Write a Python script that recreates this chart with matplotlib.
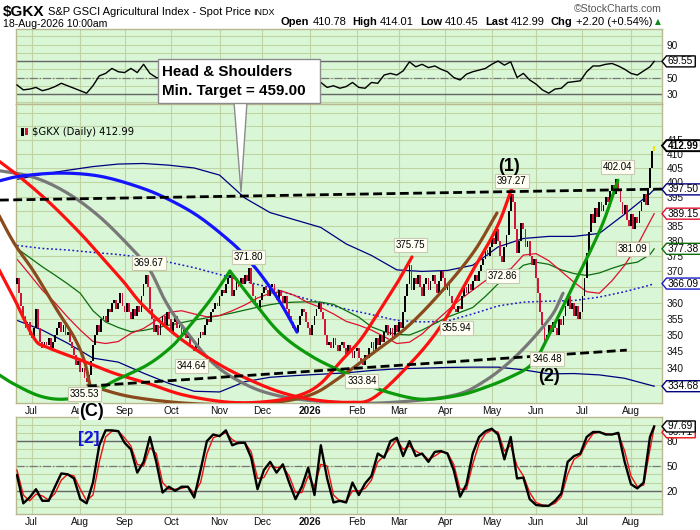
import numpy as np
import pandas as pd
import matplotlib
matplotlib.use("Agg")
import matplotlib.pyplot as plt
from matplotlib.patches import Polygon, Rectangle
from matplotlib.transforms import Bbox, IdentityTransform
from matplotlib.ticker import NullLocator

plt.rcParams['font.family'] = ['Liberation Sans', 'DejaVu Sans']

# ---------------- data ----------------
START_DATE = "2025-06-20"
FIRST_OPEN = 366.0
closes = [
    368, 363, 359, 356, 352, 354, 350, 349, 352, 358,
    352, 348, 346, 348, 347, 349, 346, 348, 350, 352,
    354, 351, 353, 350, 351, 348, 346, 344, 341, 342,
    339, 340, 337, 336, 338, 342, 347, 350, 353, 351,
    355, 356, 354, 358, 357, 360, 361, 358, 360, 363,
    359, 357, 360, 357, 355, 358, 356, 359, 357, 362,
    366, 369, 365, 358, 355, 351, 353, 350, 354, 356,
    353, 357, 355, 351, 354, 356, 352, 353, 350, 352,
    349, 350, 347, 346, 345, 347, 349, 351, 350, 353,
    355, 354, 357, 358, 360, 359, 362, 364, 363, 366,
    368, 369, 362, 364, 367, 365, 368, 366, 369, 367,
    371, 366, 362, 360, 358, 361, 363, 365, 364, 362,
    365, 366, 363, 361, 364, 362, 360, 362, 358, 356,
    354, 352, 351, 353, 356, 358, 357, 354, 352, 350,
    353, 356, 358, 360, 357, 355, 350, 347, 348, 346,
    349, 347, 345, 347, 348, 346, 344, 347, 345, 343,
    345, 346, 343, 342, 341, 344, 343, 346, 348, 345,
    349, 347, 350, 348, 351, 353, 350, 352, 349, 353,
    351, 354, 352, 357, 362, 366, 372, 364, 368, 366,
    369, 365, 362, 366, 368, 364, 367, 369, 366, 363,
    367, 370, 368, 364, 366, 362, 360, 358, 357, 359,
    358, 362, 365, 363, 366, 364, 367, 369, 367, 370,
    372, 374, 377, 375, 378, 381, 379, 384, 380, 375,
    373, 378, 382, 390, 396, 393, 384, 376, 380, 386,
    384, 378, 380, 375, 372, 374, 368, 363, 357, 353,
    348, 350, 353, 351, 354, 352, 350, 355, 353, 356,
    359, 362, 358, 360, 356, 359, 355, 357, 362, 368,
    376, 383, 389, 386, 391, 388, 393, 390, 392, 395,
    393, 397, 399, 396, 401, 397, 393, 389, 392, 387,
    385, 389, 384, 388, 386, 390, 393, 396, 392, 398,
    405, 411, 412.99,
]

IND_STEP = 3
rsi14 = [41, 35, 36, 38, 34, 36, 39, 43, 40, 37,
         34, 31, 40, 52, 55, 61, 57, 56, 61, 56,
         66, 55, 50, 48, 50, 47, 49, 45, 41, 50,
         55, 60, 62, 63, 61, 64, 66, 55, 52, 55,
         54, 57, 55, 45, 47, 52, 49, 52, 44, 38,
         40, 37, 39, 44, 38, 37, 44, 43, 53, 55,
         53, 58, 69, 63, 66, 62, 64, 60, 57, 50,
         47, 54, 57, 59, 61, 66, 70, 65, 69, 50,
         55, 47, 42, 35, 31, 36, 37, 44, 45, 46,
         57, 64, 64, 66, 67, 64, 60, 55, 53, 58,
         63, 69.55]
stoch_k = [39, 5, 12, 22, 8, 8, 25, 41, 40, 35,
           10, 5, 30, 75, 93, 93, 92, 78, 70, 42,
           55, 85, 55, 18, 25, 20, 25, 25, 12, 45,
           80, 88, 86, 93, 75, 78, 78, 60, 22, 45,
           55, 42, 52, 30, 10, 25, 48, 15, 75, 35,
           6, 8, 6, 30, 15, 29, 38, 65, 60, 80,
           84, 62, 80, 62, 65, 55, 67, 68, 65, 45,
           13, 28, 65, 85, 92, 95, 88, 58, 85, 35,
           36, 10, 3, 2, 2, 8, 17, 55, 62, 65,
           85, 91, 91, 88, 88, 90, 55, 28, 23, 30,
           85, 97.69]
stoch_d = [45, 15, 8, 16, 14, 9, 17, 33, 40, 38,
           22, 8, 15, 55, 85, 92, 92, 84, 74, 52,
           50, 72, 65, 30, 22, 22, 23, 25, 17, 30,
           65, 84, 87, 90, 82, 77, 78, 67, 35, 36,
           50, 48, 49, 38, 18, 18, 38, 25, 52, 50,
           15, 8, 7, 20, 20, 23, 33, 55, 62, 72,
           82, 70, 74, 68, 64, 58, 62, 67, 66, 52,
           22, 22, 52, 77, 89, 93, 91, 68, 75, 50,
           38, 18, 6, 3, 2, 5, 13, 40, 58, 63,
           78, 89, 91, 89, 88, 89, 68, 38, 25, 27,
           70, 96.7]

MA_STEP = 6
sma20 = [374, 369, 364, 360, 355.5, 351.5, 348, 347.4, 348, 350.5,
         352, 354.5, 357, 357.5, 356.5, 355.6, 356, 357.5, 359.3, 361.5,
         363, 363.6, 362.2, 360, 358.5, 356.5, 354.2, 353, 351.5, 349.5,
         347.4, 347.8, 350.3, 354, 357.5, 361, 364, 367, 370, 370.8,
         375.3, 375.8, 373.5, 370, 366.5, 363.5, 363, 367, 372, 378.5,
         386.5, 389.15]
sma50 = [377.5, 374.5, 371.5, 368.8, 366, 363, 357.5, 354, 352.3, 351,
         351.4, 352.2, 353, 353.8, 354.6, 355.3, 356, 356.8, 357.7, 358.6,
         359.4, 360, 360.2, 360.3, 360.2, 359.5, 357.5, 355.5, 352.5, 351,
         350.2, 350, 351.5, 353.5, 355.5, 357, 358.5, 362, 366, 368.5,
         372, 373, 372.3, 370.5, 369.3, 368.7, 369.5, 371, 372.3, 373,
         375.5, 377.38]
BB_STEP = 12
bb_upper = [401, 402.8, 404.2, 405.5, 406.4, 406.6, 406, 405, 402.5, 394.5,
            389.5, 387, 384.5, 379, 375.2, 370.5, 370, 370.3, 372, 378,
            380.8, 381.5, 381.5, 382.5, 389, 396, 397.5]
bb_mid = [378.5, 377.5, 377, 376.2, 375.5, 374.5, 373, 371.2, 369, 366.8,
          364.8, 362.2, 360, 358, 356.3, 354.5, 354, 354.3, 356.5, 359,
          360.2, 360.5, 360.7, 361.8, 363.5, 365.6, 366.09]
bb_lower = [354.5, 351.5, 347.5, 343, 341.8, 338.5, 335.5, 333.2, 333, 336,
            337.3, 337.8, 338.2, 338.6, 339.3, 339.8, 340, 340.2, 340.3, 340.3,
            339.5, 338.3, 338.4, 338, 337, 335, 334.68]

# pivot labels: bar index, label anchor price, text
piv_idx = [31.8, 62.6, 82.9, 109.5, 186.3, 163.5, 208.5, 230.3, 234.6, 251.2, 284.8, 291.9]
piv_y = [332.4, 372.7, 340.6, 374.7, 378.6, 336.2, 352.1, 368.5, 400.4, 342.7, 405.3, 377.3]
piv_txt = ["335.53", "369.67", "344.64", "371.80", "375.75", "333.84",
           "355.94", "372.86", "397.27", "346.48", "402.04", "381.09"]

# hand-drawn annotation arcs (bar index, price waypoints)
arc_blue_x = [-10.4, 1.4, 20.4, 39.3, 58.3, 72.5, 86.7, 102.4, 110.4, 116.6, 124.6, 132.7]
arc_blue_y = [400.1, 402.1, 403.2, 402.1, 398.2, 393.8, 387.9, 379.0, 373.2, 368.0, 360.3, 350.9]
arc_red1_x = [-10.4, 1.4, 15.6, 29.9, 39.3, 50.2, 59.7, 75.8, 94.8, 110.4, 126.1, 142.2,
              157.8, 168.7, 184.8, 200.5, 216.1, 227.5, 234.6]
arc_red1_y = [408.5, 401.8, 392.8, 382.6, 375.3, 366.9, 359.2, 349.7, 341.5, 336.5, 332.7, 330.6,
              330.0, 331.2, 340.3, 352.4, 370.4, 384.6, 398.0]
arc_red2_x = [-10.4, -1.4, 8.1, 14.2, 30.3, 46.0, 61.6, 79.1, 100.9, 119.9, 134.1, 143.6,
              153.1, 162.6, 172.0, 180.1, 187.2]
arc_red2_y = [373.0, 361.4, 349.0, 346.3, 342.4, 338.5, 335.6, 332.1, 330.0, 330.3, 332.1, 335.3,
              341.8, 348.4, 357.7, 366.2, 374.7]
arc_brown1_x = [-10.4, -1.4, 8.1, 19.0, 27.0, 31.8, 34.6]
arc_brown1_y = [391.1, 379.3, 369.8, 357.7, 349.4, 342.4, 335.0]
arc_brown2_x = [33.6, 55.0, 86.7, 118.5, 138.9, 153.1, 168.7, 184.8, 200.5, 216.1, 227.5]
arc_brown2_y = [335.0, 331.5, 329.5, 329.8, 332.1, 337.3, 344.5, 352.4, 363.0, 376.0, 389.4]
arc_gray_x = [-10.4, 7.6, 23.7, 39.3, 55.0, 63.0, 70.1, 77.3, 92.9, 109.0, 124.6, 143.6,
              172.0, 205.2, 220.9, 237.0, 252.6, 258.8]
arc_gray_y = [404.3, 401.8, 396.3, 388.0, 377.0, 370.4, 360.8, 353.6, 341.5, 335.0, 331.8, 330.3,
              329.8, 331.8, 335.9, 343.9, 355.2, 363.0]
arc_green1_x = [-10.4, -1.4, 10.9, 22.3, 34.6, 46.0, 61.6, 72.5, 79.1, 91.5, 100.9]
arc_green1_y = [338.8, 335.3, 331.8, 330.9, 332.4, 336.2, 340.9, 346.0, 350.6, 360.8, 370.1]
arc_green2_x = [100.9, 110.4, 124.6, 140.3, 157.8, 168.7, 184.8, 195.7, 210.0, 220.9, 233.6,
                244.5, 252.6, 260.7, 276.3, 284.8]
arc_green2_y = [370.1, 361.8, 350.6, 343.3, 337.9, 334.4, 331.5, 330.9, 332.1, 334.1, 337.3,
                341.5, 350.6, 361.4, 383.6, 400.7]
neck_x = [-8.1, 305.7]
neck_y = [393.8, 397.6]
base_x = [33.6, 289.0]
base_y = [334.7, 345.4]

price_ticks = [335, 340, 345, 350, 355, 360, 365, 370, 375, 380, 385, 390, 395, 400, 405, 410, 415, 420, 425]
price_labels = ["", "340", "345", "350", "355", "360", "", "370", "375", "380", "385",
                "", "395", "400", "405", "410", "415", "", ""]

# ---------------- figure ----------------
W, H = 700, 530
fig = plt.figure(figsize=(W / 100, H / 100), dpi=100)
fig.patch.set_facecolor('white')


def fx(px):
    return px / W


def fy(py):
    return 1 - py / H


L, R = 16, 662
ax_rsi = fig.add_axes([fx(L), fy(104), fx(R) - fx(L), fy(29) - fy(104)])
ax = fig.add_axes([fx(L), fy(403), fx(R) - fx(L), fy(104) - fy(403)])
ax_st = fig.add_axes([fx(L), fy(514), fx(R) - fx(L), fy(417) - fy(514)])

closes = np.array(closes, dtype=float)
n = len(closes)
x = np.arange(n)
dates = pd.bdate_range(START_DATE, periods=n)
per = dates.to_period('M')
month_idx = [i for i in range(1, n) if per[i] != per[i - 1]]
month_dates = dates[month_idx]
month_lbl = [str(d.year) if d.month == 1 else d.strftime('%b') for d in month_dates]

XL = (-0.47, 305.7)
BG = '#d9f6d6'
GRID = '#bfd3a3'
FRAME = '#b9b98f'

for a in (ax_rsi, ax, ax_st):
    a.set_facecolor(BG)
    for s in a.spines.values():
        s.set_color(FRAME)
        s.set_linewidth(1.0)
    a.set_xlim(*XL)
    a.set_xticks(month_idx)
    a.yaxis.tick_right()
    a.tick_params(axis='both', length=0, labelsize=7.3, colors='#111111')
    a.tick_params(axis='x', pad=2.5)
    a.tick_params(axis='y', pad=3.2)
    a.grid(True, color=GRID, lw=0.8)
    a.set_axisbelow(True)

ax_rsi.set_xticklabels([])
for a in (ax, ax_st):
    a.set_xticklabels(month_lbl)
    for lbl, d in zip(a.get_xticklabels(), month_dates):
        if d.month == 1:
            lbl.set_fontweight('bold')

# ---- RSI panel ----
ind_x = np.r_[np.arange(0, n - 2, IND_STEP), n - 1]
ax_rsi.set_ylim(17.9, 108.8)
ax_rsi.set_yticks([20, 30, 40, 50, 60, 70, 80, 90, 100])
ax_rsi.set_yticklabels(["", "30", "", "50", "", "", "", "90", ""])
ax_rsi.axhline(70, color='#666666', lw=1.0, zorder=1)
ax_rsi.axhline(30, color='#666666', lw=1.0, zorder=1)
ax_rsi.axhline(50, color='#777777', lw=0.9, ls='-.', zorder=1)
ax_rsi.plot(ind_x, rsi14, color='black', lw=1.0, zorder=3)

# ---- Stochastic panel ----
ax_st.set_ylim(-7.9, 109.1)
ax_st.set_yticks([0, 10, 20, 30, 40, 50, 60, 70, 80, 90, 100])
ax_st.set_yticklabels(["", "", "20", "", "", "50", "", "", "80", "", ""])
ax_st.axhline(80, color='#666666', lw=1.0, zorder=1)
ax_st.axhline(20, color='#666666', lw=1.0, zorder=1)
ax_st.axhline(50, color='#777777', lw=0.9, ls='-.', zorder=1)
ax_st.plot(ind_x, stoch_d, color='#ee1111', lw=1.0, zorder=3)
ax_st.plot(ind_x, stoch_k, color='black', lw=1.7, zorder=4)

# ---- Main price panel ----
ax.set_yscale('log')
ax.set_ylim(329.8, 428.3)
ax.set_yticks(price_ticks)
ax.set_yticklabels(price_labels)
ax.yaxis.set_minor_locator(NullLocator())

ma_x = np.r_[np.arange(0, n - 2, MA_STEP), n - 1]
bb_x = np.r_[np.arange(0, n - 2, BB_STEP), n - 1]
ax.plot(bb_x, bb_upper, color='#000080', lw=0.9, zorder=2)
ax.plot(bb_x, bb_lower, color='#000080', lw=0.9, zorder=2)
ax.plot(bb_x, bb_mid, color='#1a1acc', lw=1.1, ls=(0, (1.2, 1.6)), zorder=2)
ax.plot(ma_x, sma50, color='#0b6e0b', lw=0.9, zorder=2)
ax.plot(ma_x, sma20, color='#e01030', lw=0.9, zorder=2)

opens = np.r_[FIRST_OPEN, closes[:-1]]
up = closes >= opens
lo = np.minimum(opens, closes)
hgt = np.maximum(np.abs(closes - opens), 0.4)
cols = ['black' if u else '#d2143c' for u in up]
cols[-1] = '#f2e20c'
ax.bar(x, hgt, bottom=lo, width=0.85, color=cols, lw=0, zorder=3)

# clip box allowing drawings to run into the left margin
clipbox = Bbox([[0, H - 403], [R, H - 104]])


def smooth(xs, ys, k=16):
    P = np.column_stack([np.asarray(xs, float), np.log(np.asarray(ys, float))])
    P = np.vstack([2 * P[0] - P[1], P, 2 * P[-1] - P[-2]])
    out = []
    t = np.linspace(0, 1, k, endpoint=False)[:, None]
    for i in range(1, len(P) - 2):
        p0, p1, p2, p3 = P[i - 1], P[i], P[i + 1], P[i + 2]
        out.append(0.5 * (2 * p1 + (-p0 + p2) * t + (2 * p0 - 5 * p1 + 4 * p2 - p3) * t ** 2
                          + (-p0 + 3 * p1 - 3 * p2 + p3) * t ** 3))
    out.append(P[-2][None, :])
    out = np.vstack(out)
    return out[:, 0], np.exp(out[:, 1])


def free_line(xs, ys, **kw):
    ln, = ax.plot(xs, ys, **kw)
    ln.set_clip_path(None)
    ln.set_clip_box(clipbox)
    ln.set_clip_on(True)
    return ln


arcs = [
    (arc_gray_x, arc_gray_y, '#787878'),
    (arc_brown1_x, arc_brown1_y, '#8b4a1c'),
    (arc_brown2_x, arc_brown2_y, '#8b4a1c'),
    (arc_red2_x, arc_red2_y, '#ff1010'),
    (arc_red1_x, arc_red1_y, '#ff1010'),
    (arc_green1_x, arc_green1_y, '#0a9a0a'),
    (arc_green2_x, arc_green2_y, '#0a9a0a'),
    (arc_blue_x, arc_blue_y, '#1414ff'),
]
for xs, ys, c in arcs:
    sx, sy = smooth(xs, ys)
    free_line(sx, sy, color=c, lw=2.3, zorder=5, solid_capstyle='round')

free_line(neck_x, neck_y, color='black', lw=2.0, ls=(0, (3.2, 1.6)), zorder=6)
free_line(base_x, base_y, color='black', lw=2.0, ls=(0, (3.2, 1.6)), zorder=6)

for xi, yi, tx in zip(piv_idx, piv_y, piv_txt):
    ax.text(xi, yi, tx, ha='center', va='center', fontsize=7, zorder=8,
            bbox=dict(boxstyle='square,pad=0.18', fc='#fffff4', ec='#c9c9b2', lw=0.8))

ax.text(233.2, 405.6, "(1)", ha='center', va='center', fontsize=13, fontweight='bold', zorder=8)
ax.text(252.1, 337.6, "(2)", ha='center', va='center', fontsize=13, fontweight='bold', zorder=8)

# ---------------- texts in figure pixels ----------------
rend = fig.canvas.get_renderer()


def ftext(px, py, s, **kw):
    return fig.text(fx(px), fy(py), s, **kw)


ftext(3, 12, "$GKX", fontsize=11, fontweight='bold', va='center')
ftext(48, 12, "S&P GSCI Agricultural Index - Spot Price", fontsize=8, va='center')
ftext(253, 12.5, "INDX", fontsize=6.5, va='center')
ftext(3, 24, "18-Aug-2026 10:00am", fontsize=7.6, va='center')
ftext(662, 9, "\u00a9StockCharts.com", fontsize=7.6, va='center', ha='right', color='#555555')

pieces = [("Open", True, 3), ("410.78", False, 6), ("High", True, 3), ("414.01", False, 6),
          ("Low", True, 3), ("410.45", False, 6), ("Last", True, 3), ("412.99", False, 6),
          ("Chg", True, 3), ("+2.20 (+0.54%)", False, 0)]
widths = []
for s, b, g in pieces:
    t = ftext(0, 0, s, fontsize=8, fontweight='bold' if b else 'normal')
    widths.append(t.get_window_extent(rend).width)
    t.remove()
total = sum(widths) + sum(g for _, _, g in pieces)
xc = 652 - total
for (s, b, g), w in zip(pieces, widths):
    ftext(xc, 22, s, fontsize=8, fontweight='bold' if b else 'normal', va='center')
    xc += w + g
ftext(658, 22, "\u25b2", fontsize=5.5, va='center', ha='center', color='#11881a',
      family=['DejaVu Sans'])

# legend line of the price panel
fig.add_artist(Rectangle((21, H - 136), 2.5, 8, transform=IdentityTransform(), fc='black', ec='none', zorder=9))
fig.add_artist(Rectangle((25, H - 135), 2.5, 7, transform=IdentityTransform(), fc='#d2143c', ec='none', zorder=9))
ftext(32, 132, "$GKX (Daily) 412.99", fontsize=7.2, va='center', family=['DejaVu Sans'], zorder=9)

ftext(91, 411, "(C)", fontsize=13, fontweight='bold', va='center', ha='center', zorder=9,
      bbox=dict(boxstyle='square,pad=0.0', fc='white', ec='none'))
ftext(89, 439, "[2]", fontsize=12.5, fontweight='bold', va='center', ha='center', color='#1212dd', zorder=9)

# Head & shoulders callout
fig.add_artist(Polygon([(234, H - 102), (247, H - 102), (241, H - 192)], closed=True,
                       transform=IdentityTransform(), fc='white', ec='#8c8c8c', lw=1.0, zorder=10))
fig.add_artist(Rectangle((158, H - 103), 162, 44, transform=IdentityTransform(),
                         fc='white', ec='#8c8c8c', lw=1.0, zorder=11))
ftext(162, 72, "Head & Shoulders", fontsize=10.9, fontweight='bold', va='center', zorder=12)
ftext(162, 91, "Min. Target = 459.00", fontsize=10.9, fontweight='bold', va='center', zorder=12)


# right-hand value tags
def tag(a, value, label, ec, bold=False, yshift=0.0, z=20, lw=1.0):
    ypix = a.transData.transform((0, value))[1] + yshift
    xtip = a.transAxes.transform((1, 0))[0]
    t = fig.text((xtip + 6) / W, ypix / H, label, fontsize=7.3,
                 fontweight='bold' if bold else 'normal', va='center', ha='left', zorder=z + 1)
    bb = t.get_window_extent(rend)
    x0, x1 = xtip + 4.5, bb.x1 + 2
    y0, y1 = ypix - 5.5, ypix + 5.5
    fig.add_artist(Polygon([(xtip, ypix), (x0, y1), (x1, y1), (x1, y0), (x0, y0)], closed=True,
                           transform=IdentityTransform(), fc='white', ec=ec, lw=lw, zorder=z))


tag(ax, 334.68, "334.68", '#000080')
tag(ax, 366.09, "366.09", '#1a1acc')
tag(ax, 377.38, "377.38", '#0b6e0b')
tag(ax, 389.15, "389.15", '#e01030')
tag(ax, 397.50, "397.50", '#000080')
tag(ax, 412.99, "412.99", 'black', bold=True, lw=1.4)
tag(ax_rsi, 69.55, "69.55", 'black')
tag(ax_st, 96.7, "96.71", '#ee1111', yshift=-5, z=20)
tag(ax_st, 97.69, "97.69", 'black', z=22)

fig.savefig("out.png", dpi=100)
